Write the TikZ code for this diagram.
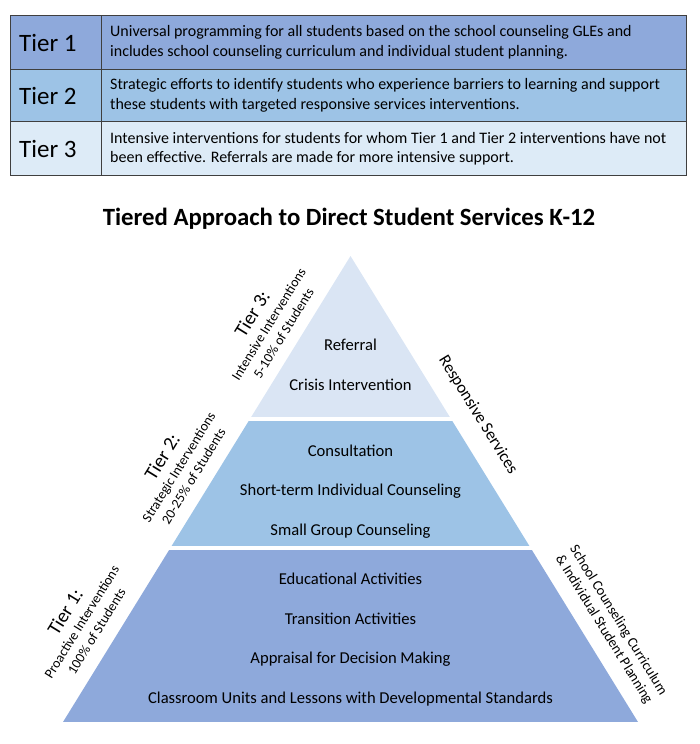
\documentclass[tikz,border=0pt]{standalone}
\usepackage{fontspec}
\setmainfont{Carlito}
\usetikzlibrary{calc}
\definecolor{TierOne}{HTML}{8EA9DB}
\definecolor{TierTwo}{HTML}{9DC3E6}
\definecolor{TierThree}{HTML}{DDEBF7}
\definecolor{TopBand}{HTML}{DAE5F4}
\definecolor{Rule}{HTML}{3F3F3F}

\begin{document}
\begin{tikzpicture}[x=1pt,y=-1pt,
  cell/.style={draw=Rule,line width=0.9pt},
  tiername/.style={anchor=west,inner sep=0pt,font=\fontsize{25}{28}\selectfont},
  tierdesc/.style={anchor=west,inner sep=0pt,align=left,font=\fontsize{16}{19.5}\selectfont},
  band/.style={inner sep=0pt,font=\fontsize{16.6}{18}\selectfont},
  side/.style={inner sep=0pt,align=center,font=\fontsize{13.8}{17.5}\selectfont}]
  \useasboundingbox (0,0) rectangle (699,744);
  % table
  \fill[TierOne] (10.7,15.7) rectangle (686,69.3);
  \fill[TierTwo] (10.7,69.3) rectangle (686,121.7);
  \fill[TierThree] (10.7,121.7) rectangle (686,175.7);
  \draw[cell] (10.7,15.7) rectangle (686,175.7);
  \draw[cell] (10.7,69.3) -- (686,69.3) (10.7,121.7) -- (686,121.7) (101,15.7) -- (101,175.7);
  \node[tiername] (t1) at (19,42.5) {Tier 1};
  \node[tiername] (t2) at (19,95.5) {Tier 2};
  \node[tiername] (t3) at (19,148.7) {Tier 3};
  \node[tierdesc] (d1) at (110,42.5) {Universal programming for all students based on the school counseling GLEs and\\includes school counseling curriculum and individual student planning.};
  \node[tierdesc] (d2) at (110,95.5) {Strategic efforts to identify students who experience barriers to learning and support\\these students with targeted responsive services interventions.};
  \node[tierdesc] (d3) at (110,148.7) {Intensive interventions for students for whom Tier 1 and Tier 2 interventions have not\\been effective. Referrals are made for more intensive support.};
  \node[font=\bfseries\fontsize{24.8}{28}\selectfont] (title) at (349,219) {Tiered Approach to Direct Student Services K-12};
  % pyramid
  \coordinate (apex) at (350.5,256);
  \coordinate (bl) at (63,722);
  \coordinate (br) at (638,722);
  \begin{scope}
    \clip (apex) -- (bl) -- (br) -- cycle;
    \fill[TopBand] (0,250) rectangle (699,417);
    \fill[TierTwo] (0,420.5) rectangle (699,546);
    \fill[TierOne] (0,549.5) rectangle (699,722);
  \end{scope}
  \node[band] (referral) at (350.5,345) {Referral};
  \node[band] (crisis) at (350.5,385) {Crisis Intervention};
  \node[band] (consult) at (350.5,451) {Consultation};
  \node[band] (shortterm) at (350.5,491) {Short-term Individual Counseling};
  \node[band] (smallgroup) at (350.5,531) {Small Group Counseling};
  \node[band] (educ) at (350.5,579) {Educational Activities};
  \node[band] (trans) at (350.5,619) {Transition Activities};
  \node[band] (apprais) at (350.5,659) {Appraisal for Decision Making};
  \node[band] (units) at (350.5,699) {Classroom Units and Lessons with Developmental Standards};
  % side labels
  \node[side,rotate=58.3] (lab3) at (267,323) {{\fontsize{19.5}{21}\selectfont Tier 3:}\\Intensive Interventions\\5-10\% of Students};
  \node[side,rotate=58.3] (lab2) at (177,466) {{\fontsize{19.5}{21}\selectfont Tier 2:}\\Strategic Interventions\\20-25\% of Students};
  \node[side,rotate=58.3] (lab1) at (80,621) {{\fontsize{19.5}{21}\selectfont Tier 1:}\\Proactive Interventions\\100\% of Students};
  \node[side,rotate=-58.3,font=\fontsize{16.8}{18}\selectfont] (resp) at (478,415) {Responsive Services};
  \node[side,rotate=-58.3,font=\fontsize{14.3}{17}\selectfont] (plan) at (611,625) {School Counseling Curriculum\\\& Individual Student Planning};
\end{tikzpicture}
\end{document}
